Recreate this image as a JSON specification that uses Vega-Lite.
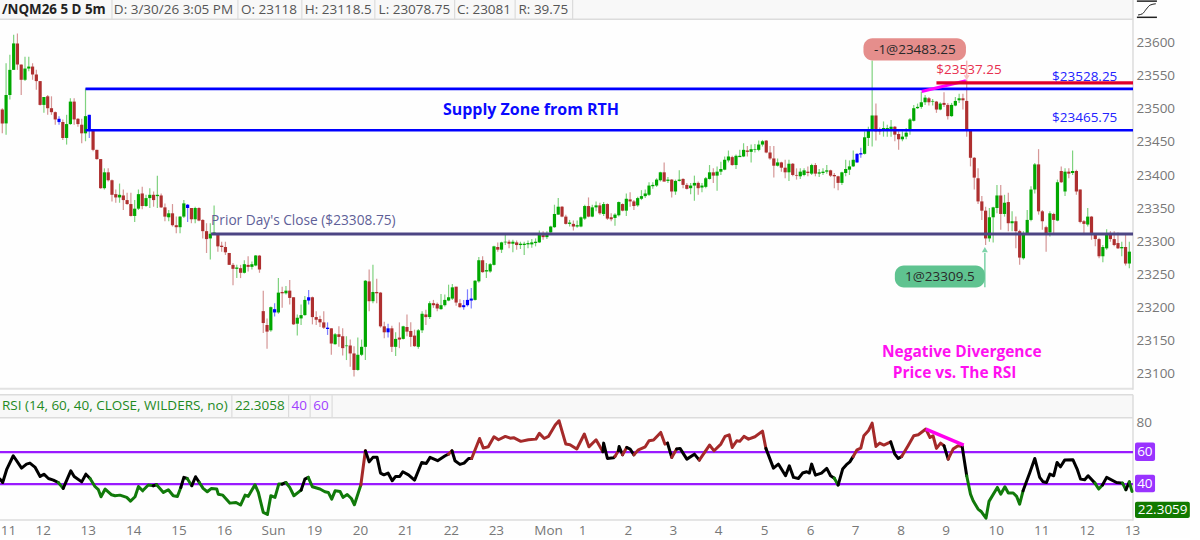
{
"$schema":"https://vega.github.io/schema/vega-lite/v6.json",
"padding":{"left":-2,"top":-1.2,"right":0,"bottom":0},
"background":"#fefefe",
"spacing":0,
"resolve":{"scale":{"color":"independent"}},
"config":{"view":{"stroke":null},"font":"Open Sans","concat":{"spacing":0}},
"datasets":{
"candles":[
{"i":0,"o":23497,"h":23499,"l":23461,"c":23476,"s":"d"},{"i":1,"o":23476,"h":23567,"l":23459,"c":23519,"s":"u"},{"i":2,"o":23519,"h":23580,"l":23512,"c":23557,"s":"u"},{"i":3,"o":23557,"h":23610,"l":23557,"c":23597,"s":"u"},{"i":4,"o":23597,"h":23612,"l":23557,"c":23565,"s":"d"},{"i":5,"o":23565,"h":23565,"l":23519,"c":23542,"s":"d"},{"i":6,"o":23542,"h":23577,"l":23540,"c":23559,"s":"u"},{"i":7,"o":23559,"h":23577,"l":23555,"c":23562,"s":"u"},{"i":8,"o":23562,"h":23567,"l":23542,"c":23550,"s":"d"},{"i":9,"o":23550,"h":23557,"l":23527,"c":23540,"s":"d"},
{"i":10,"o":23540,"h":23540,"l":23503,"c":23504,"s":"d"},{"i":11,"o":23504,"h":23516,"l":23492,"c":23516,"s":"u"},{"i":12,"o":23517,"h":23519,"l":23489,"c":23499,"s":"d"},{"i":13,"o":23499,"h":23517,"l":23489,"c":23493,"s":"d"},{"i":14,"o":23493,"h":23494,"l":23474,"c":23482,"s":"d"},{"i":15,"o":23483,"h":23487,"l":23474,"c":23478,"s":"n"},{"i":16,"o":23478,"h":23482,"l":23451,"c":23454,"s":"d"},{"i":17,"o":23454,"h":23489,"l":23444,"c":23475,"s":"u"},{"i":18,"o":23475,"h":23514,"l":23474,"c":23509,"s":"u"},{"i":19,"o":23509,"h":23514,"l":23474,"c":23482,"s":"d"},
{"i":20,"o":23483,"h":23484,"l":23471,"c":23475,"s":"d"},{"i":21,"o":23474,"h":23483,"l":23446,"c":23461,"s":"d"},{"i":22,"o":23461,"h":23529,"l":23449,"c":23487,"s":"u"},{"i":23,"o":23466,"h":23489,"l":23454,"c":23489,"s":"n"},{"i":24,"o":23465,"h":23466,"l":23434,"c":23436,"s":"d"},{"i":25,"o":23436,"h":23436,"l":23421,"c":23422,"s":"d"},{"i":26,"o":23422,"h":23422,"l":23377,"c":23378,"s":"d"},{"i":27,"o":23378,"h":23408,"l":23376,"c":23402,"s":"u"},{"i":28,"o":23402,"h":23408,"l":23388,"c":23390,"s":"d"},{"i":29,"o":23390,"h":23391,"l":23358,"c":23368,"s":"d"},
{"i":30,"o":23369,"h":23376,"l":23356,"c":23364,"s":"d"},{"i":31,"o":23364,"h":23385,"l":23356,"c":23368,"s":"u"},{"i":32,"o":23367,"h":23376,"l":23345,"c":23360,"s":"d"},{"i":33,"o":23360,"h":23371,"l":23353,"c":23354,"s":"d"},{"i":34,"o":23354,"h":23371,"l":23335,"c":23336,"s":"d"},{"i":35,"o":23336,"h":23360,"l":23327,"c":23347,"s":"u"},{"i":36,"o":23347,"h":23376,"l":23345,"c":23369,"s":"u"},{"i":37,"o":23370,"h":23380,"l":23346,"c":23351,"s":"d"},{"i":38,"o":23351,"h":23368,"l":23350,"c":23363,"s":"u"},{"i":39,"o":23363,"h":23378,"l":23348,"c":23368,"s":"u"},
{"i":40,"o":23368,"h":23373,"l":23350,"c":23360,"s":"d"},{"i":41,"o":23366,"h":23397,"l":23348,"c":23368,"s":"u"},{"i":42,"o":23367,"h":23370,"l":23348,"c":23349,"s":"d"},{"i":43,"o":23349,"h":23355,"l":23328,"c":23335,"s":"d"},{"i":44,"o":23334,"h":23345,"l":23328,"c":23340,"s":"u"},{"i":45,"o":23340,"h":23354,"l":23320,"c":23322,"s":"d"},{"i":46,"o":23322,"h":23335,"l":23310,"c":23319,"s":"d"},{"i":47,"o":23319,"h":23336,"l":23310,"c":23335,"s":"u"},{"i":48,"o":23335,"h":23360,"l":23333,"c":23355,"s":"u"},{"i":49,"o":23353,"h":23354,"l":23327,"c":23348,"s":"n"},
{"i":50,"o":23348,"h":23348,"l":23325,"c":23331,"s":"d"},{"i":51,"o":23331,"h":23350,"l":23325,"c":23348,"s":"u"},{"i":52,"o":23348,"h":23349,"l":23328,"c":23329,"s":"d"},{"i":53,"o":23330,"h":23331,"l":23302,"c":23313,"s":"d"},{"i":54,"o":23313,"h":23325,"l":23280,"c":23301,"s":"d"},{"i":55,"o":23302,"h":23325,"l":23270,"c":23309,"s":"u"},{"i":56,"o":23309,"h":23352,"l":23308,"c":23311,"s":"u"},{"i":57,"o":23309,"h":23309,"l":23282,"c":23290,"s":"d"},{"i":58,"o":23291,"h":23297,"l":23282,"c":23289,"s":"d"},{"i":59,"o":23289,"h":23297,"l":23277,"c":23281,"s":"d"},
{"i":60,"o":23280,"h":23280,"l":23262,"c":23262,"s":"d"},{"i":61,"o":23262,"h":23265,"l":23231,"c":23256,"s":"d"},{"i":62,"o":23256,"h":23262,"l":23242,"c":23258,"s":"u"},{"i":63,"o":23257,"h":23262,"l":23242,"c":23250,"s":"d"},{"i":64,"o":23250,"h":23269,"l":23249,"c":23263,"s":"u"},{"i":65,"o":23262,"h":23275,"l":23252,"c":23259,"s":"d"},{"i":66,"o":23259,"h":23267,"l":23255,"c":23263,"s":"u"},{"i":67,"o":23261,"h":23277,"l":23260,"c":23276,"s":"u"},{"i":68,"o":23276,"h":23277,"l":23250,"c":23255,"s":"d"},{"i":69,"o":23192,"h":23223,"l":23159,"c":23174,"s":"d"},
{"i":70,"o":23171,"h":23181,"l":23135,"c":23161,"s":"d"},{"i":71,"o":23163,"h":23199,"l":23161,"c":23198,"s":"u"},{"i":72,"o":23195,"h":23204,"l":23184,"c":23190,"s":"n"},{"i":73,"o":23190,"h":23242,"l":23188,"c":23220,"s":"u"},{"i":74,"o":23221,"h":23229,"l":23197,"c":23219,"s":"d"},{"i":75,"o":23219,"h":23230,"l":23217,"c":23223,"s":"u"},{"i":76,"o":23223,"h":23239,"l":23202,"c":23212,"s":"d"},{"i":77,"o":23213,"h":23213,"l":23171,"c":23172,"s":"d"},{"i":78,"o":23173,"h":23187,"l":23155,"c":23182,"s":"u"},{"i":79,"o":23181,"h":23202,"l":23171,"c":23186,"s":"u"},
{"i":80,"o":23186,"h":23215,"l":23185,"c":23209,"s":"u"},{"i":81,"o":23213,"h":23224,"l":23202,"c":23208,"s":"n"},{"i":82,"o":23213,"h":23214,"l":23172,"c":23183,"s":"d"},{"i":83,"o":23183,"h":23192,"l":23171,"c":23179,"s":"d"},{"i":84,"o":23180,"h":23185,"l":23168,"c":23175,"s":"d"},{"i":85,"o":23175,"h":23192,"l":23165,"c":23167,"s":"d"},{"i":86,"o":23167,"h":23175,"l":23156,"c":23165,"s":"n"},{"i":87,"o":23166,"h":23166,"l":23126,"c":23143,"s":"d"},{"i":88,"o":23142,"h":23159,"l":23141,"c":23157,"s":"u"},{"i":89,"o":23157,"h":23169,"l":23138,"c":23153,"s":"d"},
{"i":90,"o":23154,"h":23166,"l":23125,"c":23136,"s":"d"},{"i":91,"o":23139,"h":23154,"l":23118,"c":23140,"s":"u"},{"i":92,"o":23140,"h":23149,"l":23108,"c":23128,"s":"d"},{"i":93,"o":23128,"h":23139,"l":23093,"c":23103,"s":"d"},{"i":94,"o":23103,"h":23152,"l":23102,"c":23126,"s":"u"},{"i":95,"o":23126,"h":23149,"l":23124,"c":23138,"s":"u"},{"i":96,"o":23138,"h":23239,"l":23118,"c":23238,"s":"u"},{"i":97,"o":23237,"h":23255,"l":23192,"c":23207,"s":"d"},{"i":98,"o":23207,"h":23262,"l":23204,"c":23221,"s":"u"},{"i":99,"o":23221,"h":23241,"l":23204,"c":23219,"s":"d"},
{"i":100,"o":23220,"h":23221,"l":23167,"c":23169,"s":"d"},{"i":101,"o":23169,"h":23176,"l":23151,"c":23160,"s":"d"},{"i":102,"o":23160,"h":23173,"l":23152,"c":23166,"s":"n"},{"i":103,"o":23166,"h":23170,"l":23130,"c":23138,"s":"d"},{"i":104,"o":23138,"h":23160,"l":23124,"c":23150,"s":"u"},{"i":105,"o":23152,"h":23175,"l":23136,"c":23149,"s":"d"},{"i":106,"o":23150,"h":23170,"l":23149,"c":23169,"s":"u"},{"i":107,"o":23168,"h":23187,"l":23154,"c":23161,"s":"d"},{"i":108,"o":23162,"h":23175,"l":23138,"c":23153,"s":"d"},{"i":109,"o":23155,"h":23164,"l":23138,"c":23139,"s":"d"},
{"i":110,"o":23138,"h":23165,"l":23135,"c":23163,"s":"u"},{"i":111,"o":23163,"h":23192,"l":23159,"c":23188,"s":"u"},{"i":112,"o":23187,"h":23194,"l":23171,"c":23183,"s":"d"},{"i":113,"o":23183,"h":23207,"l":23180,"c":23204,"s":"u"},{"i":114,"o":23204,"h":23209,"l":23197,"c":23201,"s":"d"},{"i":115,"o":23203,"h":23205,"l":23192,"c":23196,"s":"d"},{"i":116,"o":23195,"h":23218,"l":23194,"c":23201,"s":"u"},{"i":117,"o":23201,"h":23217,"l":23199,"c":23209,"s":"u"},{"i":118,"o":23208,"h":23232,"l":23207,"c":23213,"s":"u"},{"i":119,"o":23211,"h":23233,"l":23209,"c":23228,"s":"u"},
{"i":120,"o":23229,"h":23229,"l":23200,"c":23205,"s":"d"},{"i":121,"o":23204,"h":23210,"l":23197,"c":23198,"s":"d"},{"i":122,"o":23201,"h":23209,"l":23194,"c":23198,"s":"n"},{"i":123,"o":23201,"h":23225,"l":23199,"c":23209,"s":"n"},{"i":124,"o":23211,"h":23227,"l":23196,"c":23208,"s":"n"},{"i":125,"o":23209,"h":23239,"l":23208,"c":23238,"s":"u"},{"i":126,"o":23237,"h":23274,"l":23235,"c":23269,"s":"u"},{"i":127,"o":23269,"h":23275,"l":23250,"c":23251,"s":"d"},{"i":128,"o":23252,"h":23265,"l":23242,"c":23254,"s":"u"},{"i":129,"o":23252,"h":23265,"l":23250,"c":23263,"s":"u"},
{"i":130,"o":23262,"h":23291,"l":23261,"c":23290,"s":"u"},{"i":131,"o":23289,"h":23296,"l":23282,"c":23285,"s":"d"},{"i":132,"o":23285,"h":23297,"l":23280,"c":23296,"s":"u"},{"i":133,"o":23296,"h":23308,"l":23292,"c":23297,"s":"u"},{"i":134,"o":23297,"h":23300,"l":23287,"c":23294,"s":"d"},{"i":135,"o":23294,"h":23300,"l":23281,"c":23297,"s":"u"},{"i":136,"o":23296,"h":23299,"l":23285,"c":23292,"s":"d"},{"i":137,"o":23292,"h":23297,"l":23286,"c":23294,"s":"u"},{"i":138,"o":23292,"h":23297,"l":23277,"c":23294,"s":"u"},{"i":139,"o":23293,"h":23299,"l":23287,"c":23295,"s":"u"},
{"i":140,"o":23293,"h":23301,"l":23288,"c":23296,"s":"u"},{"i":141,"o":23295,"h":23302,"l":23290,"c":23297,"s":"u"},{"i":142,"o":23296,"h":23314,"l":23295,"c":23308,"s":"u"},{"i":143,"o":23307,"h":23313,"l":23300,"c":23304,"s":"d"},{"i":144,"o":23304,"h":23313,"l":23301,"c":23308,"s":"u"},{"i":145,"o":23311,"h":23321,"l":23310,"c":23320,"s":"u"},{"i":146,"o":23319,"h":23353,"l":23318,"c":23339,"s":"u"},{"i":147,"o":23338,"h":23363,"l":23338,"c":23350,"s":"u"},{"i":148,"o":23350,"h":23351,"l":23334,"c":23335,"s":"d"},{"i":149,"o":23335,"h":23338,"l":23323,"c":23324,"s":"d"},
{"i":150,"o":23324,"h":23330,"l":23320,"c":23326,"s":"u"},{"i":151,"o":23324,"h":23329,"l":23314,"c":23320,"s":"d"},{"i":152,"o":23320,"h":23329,"l":23318,"c":23322,"s":"u"},{"i":153,"o":23320,"h":23335,"l":23319,"c":23334,"s":"u"},{"i":154,"o":23332,"h":23353,"l":23330,"c":23351,"s":"u"},{"i":155,"o":23351,"h":23364,"l":23334,"c":23335,"s":"d"},{"i":156,"o":23335,"h":23353,"l":23334,"c":23349,"s":"u"},{"i":157,"o":23349,"h":23358,"l":23343,"c":23352,"s":"u"},{"i":158,"o":23352,"h":23356,"l":23338,"c":23340,"s":"d"},{"i":159,"o":23339,"h":23357,"l":23336,"c":23354,"s":"u"},
{"i":160,"o":23354,"h":23355,"l":23330,"c":23332,"s":"d"},{"i":161,"o":23334,"h":23340,"l":23328,"c":23331,"s":"d"},{"i":162,"o":23333,"h":23340,"l":23321,"c":23338,"s":"u"},{"i":163,"o":23337,"h":23358,"l":23335,"c":23357,"s":"u"},{"i":164,"o":23354,"h":23355,"l":23343,"c":23344,"s":"d"},{"i":165,"o":23344,"h":23370,"l":23336,"c":23362,"s":"u"},{"i":166,"o":23361,"h":23372,"l":23350,"c":23358,"s":"d"},{"i":167,"o":23358,"h":23360,"l":23345,"c":23351,"s":"d"},{"i":168,"o":23352,"h":23365,"l":23350,"c":23363,"s":"u"},{"i":169,"o":23362,"h":23375,"l":23360,"c":23366,"s":"u"},
{"i":170,"o":23366,"h":23376,"l":23363,"c":23370,"s":"u"},{"i":171,"o":23368,"h":23387,"l":23366,"c":23382,"s":"u"},{"i":172,"o":23381,"h":23387,"l":23377,"c":23383,"s":"u"},{"i":173,"o":23382,"h":23393,"l":23380,"c":23391,"s":"u"},{"i":174,"o":23390,"h":23403,"l":23388,"c":23402,"s":"u"},{"i":175,"o":23402,"h":23417,"l":23388,"c":23388,"s":"d"},{"i":176,"o":23389,"h":23395,"l":23386,"c":23391,"s":"u"},{"i":177,"o":23391,"h":23392,"l":23364,"c":23373,"s":"d"},{"i":178,"o":23373,"h":23391,"l":23368,"c":23389,"s":"u"},{"i":179,"o":23389,"h":23405,"l":23388,"c":23391,"s":"u"},
{"i":180,"o":23392,"h":23393,"l":23378,"c":23383,"s":"d"},{"i":181,"o":23383,"h":23386,"l":23376,"c":23377,"s":"d"},{"i":182,"o":23378,"h":23386,"l":23369,"c":23382,"s":"u"},{"i":183,"o":23382,"h":23397,"l":23359,"c":23386,"s":"u"},{"i":184,"o":23386,"h":23388,"l":23368,"c":23378,"s":"d"},{"i":185,"o":23379,"h":23386,"l":23372,"c":23382,"s":"u"},{"i":186,"o":23380,"h":23395,"l":23378,"c":23393,"s":"u"},{"i":187,"o":23392,"h":23413,"l":23391,"c":23402,"s":"u"},{"i":188,"o":23402,"h":23408,"l":23386,"c":23397,"s":"d"},{"i":189,"o":23397,"h":23411,"l":23374,"c":23403,"s":"u"},
{"i":190,"o":23403,"h":23418,"l":23398,"c":23407,"s":"u"},{"i":191,"o":23406,"h":23426,"l":23405,"c":23421,"s":"u"},{"i":192,"o":23420,"h":23435,"l":23417,"c":23426,"s":"u"},{"i":193,"o":23425,"h":23427,"l":23412,"c":23413,"s":"d"},{"i":194,"o":23413,"h":23429,"l":23407,"c":23427,"s":"u"},{"i":195,"o":23425,"h":23436,"l":23425,"c":23427,"s":"u"},{"i":196,"o":23426,"h":23446,"l":23425,"c":23436,"s":"u"},{"i":197,"o":23435,"h":23442,"l":23426,"c":23433,"s":"d"},{"i":198,"o":23433,"h":23444,"l":23417,"c":23437,"s":"u"},{"i":199,"o":23436,"h":23445,"l":23432,"c":23437,"s":"u"},
{"i":200,"o":23436,"h":23450,"l":23434,"c":23444,"s":"u"},{"i":201,"o":23444,"h":23451,"l":23441,"c":23449,"s":"u"},{"i":202,"o":23450,"h":23451,"l":23431,"c":23432,"s":"d"},{"i":203,"o":23432,"h":23442,"l":23421,"c":23423,"s":"d"},{"i":204,"o":23423,"h":23442,"l":23394,"c":23412,"s":"d"},{"i":205,"o":23412,"h":23423,"l":23411,"c":23417,"s":"u"},{"i":206,"o":23417,"h":23418,"l":23403,"c":23409,"s":"d"},{"i":207,"o":23409,"h":23421,"l":23393,"c":23402,"s":"d"},{"i":208,"o":23402,"h":23421,"l":23389,"c":23415,"s":"u"},{"i":209,"o":23415,"h":23416,"l":23396,"c":23398,"s":"d"},
{"i":210,"o":23398,"h":23408,"l":23391,"c":23397,"s":"d"},{"i":211,"o":23396,"h":23408,"l":23392,"c":23403,"s":"u"},{"i":212,"o":23398,"h":23408,"l":23396,"c":23405,"s":"u"},{"i":213,"o":23403,"h":23411,"l":23396,"c":23401,"s":"d"},{"i":214,"o":23400,"h":23415,"l":23398,"c":23413,"s":"u"},{"i":215,"o":23413,"h":23416,"l":23396,"c":23400,"s":"d"},{"i":216,"o":23400,"h":23407,"l":23395,"c":23402,"s":"u"},{"i":217,"o":23401,"h":23408,"l":23398,"c":23403,"s":"u"},{"i":218,"o":23403,"h":23413,"l":23400,"c":23405,"s":"u"},{"i":219,"o":23405,"h":23406,"l":23395,"c":23397,"s":"d"},
{"i":220,"o":23398,"h":23401,"l":23378,"c":23396,"s":"d"},{"i":221,"o":23396,"h":23397,"l":23375,"c":23386,"s":"d"},{"i":222,"o":23386,"h":23403,"l":23383,"c":23402,"s":"u"},{"i":223,"o":23401,"h":23421,"l":23396,"c":23407,"s":"u"},{"i":224,"o":23406,"h":23420,"l":23398,"c":23411,"s":"u"},{"i":225,"o":23411,"h":23435,"l":23410,"c":23421,"s":"u"},{"i":226,"o":23417,"h":23431,"l":23416,"c":23430,"s":"n"},{"i":227,"o":23429,"h":23439,"l":23424,"c":23431,"s":"n"},{"i":228,"o":23430,"h":23464,"l":23429,"c":23455,"s":"u"},{"i":229,"o":23454,"h":23471,"l":23442,"c":23465,"s":"u"},
{"i":230,"o":23466,"h":23571,"l":23441,"c":23488,"s":"u"},{"i":231,"o":23488,"h":23506,"l":23450,"c":23464,"s":"d"},{"i":232,"o":23466,"h":23470,"l":23459,"c":23464,"s":"d"},{"i":233,"o":23465,"h":23479,"l":23456,"c":23469,"s":"u"},{"i":234,"o":23466,"h":23474,"l":23456,"c":23469,"s":"u"},{"i":235,"o":23466,"h":23481,"l":23456,"c":23471,"s":"u"},{"i":236,"o":23471,"h":23472,"l":23449,"c":23459,"s":"d"},{"i":237,"o":23460,"h":23464,"l":23436,"c":23452,"s":"d"},{"i":238,"o":23452,"h":23464,"l":23449,"c":23456,"s":"u"},{"i":239,"o":23456,"h":23469,"l":23452,"c":23462,"s":"u"},
{"i":240,"o":23466,"h":23484,"l":23459,"c":23482,"s":"u"},{"i":241,"o":23480,"h":23504,"l":23479,"c":23499,"s":"u"},{"i":242,"o":23499,"h":23506,"l":23498,"c":23501,"s":"u"},{"i":243,"o":23501,"h":23524,"l":23498,"c":23508,"s":"u"},{"i":244,"o":23508,"h":23519,"l":23504,"c":23515,"s":"u"},{"i":245,"o":23514,"h":23516,"l":23503,"c":23508,"s":"d"},{"i":246,"o":23509,"h":23513,"l":23503,"c":23510,"s":"u"},{"i":247,"o":23509,"h":23510,"l":23492,"c":23497,"s":"d"},{"i":248,"o":23497,"h":23508,"l":23496,"c":23506,"s":"u"},{"i":249,"o":23507,"h":23523,"l":23501,"c":23504,"s":"d"},
{"i":250,"o":23504,"h":23507,"l":23482,"c":23487,"s":"d"},{"i":251,"o":23487,"h":23507,"l":23486,"c":23504,"s":"u"},{"i":252,"o":23503,"h":23516,"l":23502,"c":23510,"s":"u"},{"i":253,"o":23511,"h":23521,"l":23507,"c":23514,"s":"u"},{"i":254,"o":23514,"h":23521,"l":23497,"c":23511,"s":"d"},{"i":255,"o":23510,"h":23542,"l":23456,"c":23466,"s":"d"},{"i":256,"o":23465,"h":23467,"l":23411,"c":23424,"s":"d"},{"i":257,"o":23424,"h":23425,"l":23376,"c":23394,"s":"d"},{"i":258,"o":23393,"h":23408,"l":23354,"c":23358,"s":"d"},{"i":259,"o":23358,"h":23366,"l":23330,"c":23344,"s":"d"},
{"i":260,"o":23344,"h":23350,"l":23292,"c":23302,"s":"d"},{"i":261,"o":23302,"h":23348,"l":23297,"c":23334,"s":"u"},{"i":262,"o":23334,"h":23350,"l":23296,"c":23349,"s":"u"},{"i":263,"o":23348,"h":23383,"l":23340,"c":23367,"s":"u"},{"i":264,"o":23367,"h":23383,"l":23315,"c":23339,"s":"d"},{"i":265,"o":23339,"h":23368,"l":23335,"c":23356,"s":"u"},{"i":266,"o":23357,"h":23371,"l":23313,"c":23325,"s":"d"},{"i":267,"o":23325,"h":23343,"l":23313,"c":23328,"s":"u"},{"i":268,"o":23328,"h":23335,"l":23287,"c":23313,"s":"d"},{"i":269,"o":23313,"h":23315,"l":23262,"c":23273,"s":"d"},
{"i":270,"o":23272,"h":23313,"l":23270,"c":23310,"s":"u"},{"i":271,"o":23310,"h":23345,"l":23308,"c":23330,"s":"u"},{"i":272,"o":23330,"h":23381,"l":23328,"c":23376,"s":"u"},{"i":273,"o":23376,"h":23416,"l":23370,"c":23414,"s":"u"},{"i":274,"o":23414,"h":23437,"l":23338,"c":23343,"s":"d"},{"i":275,"o":23343,"h":23345,"l":23315,"c":23328,"s":"d"},{"i":276,"o":23319,"h":23321,"l":23282,"c":23310,"s":"d"},{"i":277,"o":23311,"h":23343,"l":23305,"c":23340,"s":"u"},{"i":278,"o":23339,"h":23341,"l":23310,"c":23330,"s":"d"},{"i":279,"o":23329,"h":23391,"l":23328,"c":23387,"s":"u"},
{"i":280,"o":23404,"h":23411,"l":23386,"c":23387,"s":"d"},{"i":281,"o":23373,"h":23408,"l":23366,"c":23403,"s":"u"},{"i":282,"o":23403,"h":23408,"l":23393,"c":23400,"s":"d"},{"i":283,"o":23401,"h":23435,"l":23398,"c":23404,"s":"u"},{"i":284,"o":23404,"h":23406,"l":23368,"c":23373,"s":"d"},{"i":285,"o":23376,"h":23376,"l":23325,"c":23327,"s":"d"},{"i":286,"o":23328,"h":23330,"l":23310,"c":23324,"s":"d"},{"i":287,"o":23323,"h":23348,"l":23320,"c":23335,"s":"u"},{"i":288,"o":23335,"h":23336,"l":23300,"c":23308,"s":"d"},{"i":289,"o":23308,"h":23310,"l":23290,"c":23301,"s":"d"},
{"i":290,"o":23301,"h":23303,"l":23272,"c":23275,"s":"d"},{"i":291,"o":23275,"h":23292,"l":23266,"c":23289,"s":"u"},{"i":292,"o":23287,"h":23316,"l":23285,"c":23308,"s":"u"},{"i":293,"o":23308,"h":23313,"l":23297,"c":23301,"s":"d"},{"i":294,"o":23301,"h":23313,"l":23290,"c":23292,"s":"d"},{"i":295,"o":23295,"h":23311,"l":23286,"c":23287,"s":"d"},{"i":296,"o":23287,"h":23297,"l":23275,"c":23289,"s":"u"},{"i":297,"o":23289,"h":23308,"l":23261,"c":23264,"s":"d"},{"i":298,"o":23264,"h":23297,"l":23257,"c":23282,"s":"u"}
],
"rsi":[
{"i":-0.6,"r":43.1,"seg":1,"zone":"n"},{"i":0.1,"r":41,"seg":1,"zone":"n"},{"i":1.2,"r":49.4,"seg":1,"zone":"n"},{"i":2.9,"r":57.7,"seg":1,"zone":"n"},{"i":5.1,"r":50,"seg":1,"zone":"n"},{"i":6.4,"r":52.5,"seg":1,"zone":"n"},{"i":7.3,"r":53.1,"seg":1,"zone":"n"},{"i":8.7,"r":50.4,"seg":1,"zone":"n"},{"i":10,"r":44.8,"seg":1,"zone":"n"},{"i":11,"r":46.2,"seg":1,"zone":"n"},{"i":12.2,"r":43.5,"seg":1,"zone":"n"},{"i":13.5,"r":42.5,"seg":1,"zone":"n"},{"i":14.8,"r":41,"seg":1,"zone":"n"},
{"i":14.8,"r":41,"seg":2,"zone":"l"},{"i":16.1,"r":37.3,"seg":2,"zone":"l"},
{"i":16.1,"r":37.3,"seg":3,"zone":"n"},{"i":18.1,"r":48.3,"seg":3,"zone":"n"},{"i":19,"r":44.8,"seg":3,"zone":"n"},{"i":21,"r":41.4,"seg":3,"zone":"n"},{"i":22.1,"r":46.2,"seg":3,"zone":"n"},{"i":23.2,"r":43.5,"seg":3,"zone":"n"},
{"i":23.2,"r":43.5,"seg":4,"zone":"l"},{"i":24.5,"r":38.5,"seg":4,"zone":"l"},{"i":25.4,"r":36.5,"seg":4,"zone":"l"},{"i":26.1,"r":32.1,"seg":4,"zone":"l"},{"i":27.2,"r":36.9,"seg":4,"zone":"l"},{"i":28.9,"r":33.3,"seg":4,"zone":"l"},{"i":29.8,"r":32.7,"seg":4,"zone":"l"},{"i":31.1,"r":33.1,"seg":4,"zone":"l"},{"i":32.9,"r":31.7,"seg":4,"zone":"l"},{"i":33.9,"r":29.4,"seg":4,"zone":"l"},{"i":35.1,"r":32.1,"seg":4,"zone":"l"},{"i":36,"r":38.5,"seg":4,"zone":"l"},{"i":37.1,"r":35.8,"seg":4,"zone":"l"},{"i":38.6,"r":39.4,"seg":4,"zone":"l"},{"i":39.9,"r":39,"seg":4,"zone":"l"},
{"i":39.9,"r":39,"seg":5,"zone":"n"},{"i":40.8,"r":39.6,"seg":5,"zone":"n"},
{"i":40.8,"r":39.6,"seg":6,"zone":"l"},{"i":42.6,"r":34.8,"seg":6,"zone":"l"},{"i":43.9,"r":36.5,"seg":6,"zone":"l"},{"i":45.2,"r":32.7,"seg":6,"zone":"l"},{"i":46.3,"r":32.3,"seg":6,"zone":"l"},{"i":47.2,"r":37.9,"seg":6,"zone":"l"},
{"i":47.2,"r":37.9,"seg":7,"zone":"n"},{"i":48,"r":44.2,"seg":7,"zone":"n"},{"i":48.9,"r":43.5,"seg":7,"zone":"n"},
{"i":48.9,"r":43.5,"seg":8,"zone":"l"},{"i":50.1,"r":39,"seg":8,"zone":"l"},
{"i":50.1,"r":39,"seg":9,"zone":"n"},{"i":51.1,"r":44.6,"seg":9,"zone":"n"},{"i":52.1,"r":41,"seg":9,"zone":"n"},
{"i":52.1,"r":41,"seg":10,"zone":"l"},{"i":53.1,"r":37.3,"seg":10,"zone":"l"},{"i":54.2,"r":35.2,"seg":10,"zone":"l"},{"i":55.3,"r":37.3,"seg":10,"zone":"l"},{"i":56.7,"r":36.9,"seg":10,"zone":"l"},{"i":57.1,"r":33.7,"seg":10,"zone":"l"},{"i":58.3,"r":33.1,"seg":10,"zone":"l"},{"i":60.2,"r":28.1,"seg":10,"zone":"l"},{"i":61.8,"r":28.5,"seg":10,"zone":"l"},{"i":63,"r":26.9,"seg":10,"zone":"l"},{"i":64.2,"r":33.1,"seg":10,"zone":"l"},{"i":65,"r":32.3,"seg":10,"zone":"l"},{"i":66.8,"r":39.6,"seg":10,"zone":"l"},{"i":67.7,"r":34.8,"seg":10,"zone":"l"},{"i":69,"r":22.3,"seg":10,"zone":"l"},{"i":70.1,"r":21,"seg":10,"zone":"l"},{"i":71,"r":32.7,"seg":10,"zone":"l"},{"i":72.1,"r":31.7,"seg":10,"zone":"l"},{"i":73.1,"r":40,"seg":10,"zone":"l"},{"i":74,"r":40,"seg":10,"zone":"l"},
{"i":74,"r":40,"seg":11,"zone":"n"},{"i":75,"r":41,"seg":11,"zone":"n"},
{"i":75,"r":41,"seg":12,"zone":"l"},{"i":76,"r":37.9,"seg":12,"zone":"l"},{"i":77.1,"r":32.7,"seg":12,"zone":"l"},{"i":79,"r":36.2,"seg":12,"zone":"l"},
{"i":79,"r":36.2,"seg":13,"zone":"n"},{"i":80,"r":43.1,"seg":13,"zone":"n"},{"i":80.9,"r":44.2,"seg":13,"zone":"n"},
{"i":80.9,"r":44.2,"seg":14,"zone":"l"},{"i":82,"r":38.3,"seg":14,"zone":"l"},{"i":84,"r":36.9,"seg":14,"zone":"l"},{"i":85.3,"r":35.2,"seg":14,"zone":"l"},{"i":86.2,"r":34.8,"seg":14,"zone":"l"},{"i":87.1,"r":30.6,"seg":14,"zone":"l"},{"i":88,"r":35.8,"seg":14,"zone":"l"},{"i":89.3,"r":35.4,"seg":14,"zone":"l"},{"i":90.1,"r":31.7,"seg":14,"zone":"l"},{"i":91.2,"r":33.5,"seg":14,"zone":"l"},{"i":92.3,"r":31,"seg":14,"zone":"l"},{"i":93.1,"r":27.1,"seg":14,"zone":"l"},{"i":94.8,"r":39.4,"seg":14,"zone":"l"},
{"i":94.8,"r":39.4,"seg":15,"zone":"h"},{"i":96,"r":60.8,"seg":15,"zone":"h"},
{"i":96,"r":60.8,"seg":16,"zone":"n"},{"i":97,"r":53.9,"seg":16,"zone":"n"},{"i":98,"r":56.7,"seg":16,"zone":"n"},{"i":99.1,"r":56.7,"seg":16,"zone":"n"},{"i":100,"r":46.9,"seg":16,"zone":"n"},{"i":100.9,"r":45.8,"seg":16,"zone":"n"},{"i":102,"r":46.9,"seg":16,"zone":"n"},{"i":103.1,"r":42.1,"seg":16,"zone":"n"},{"i":104,"r":44.8,"seg":16,"zone":"n"},{"i":105.1,"r":44.8,"seg":16,"zone":"n"},{"i":105.9,"r":47.7,"seg":16,"zone":"n"},{"i":107.4,"r":45.8,"seg":16,"zone":"n"},{"i":109,"r":42.5,"seg":16,"zone":"n"},{"i":110.9,"r":53.5,"seg":16,"zone":"n"},{"i":112.1,"r":52.9,"seg":16,"zone":"n"},{"i":113.1,"r":56.7,"seg":16,"zone":"n"},{"i":115.1,"r":54.6,"seg":16,"zone":"n"},{"i":117.1,"r":57.7,"seg":16,"zone":"n"},{"i":118,"r":58.7,"seg":16,"zone":"n"},
{"i":118,"r":58.7,"seg":17,"zone":"h"},{"i":118.9,"r":60.8,"seg":17,"zone":"h"},
{"i":118.9,"r":60.8,"seg":18,"zone":"n"},{"i":119.7,"r":54.6,"seg":18,"zone":"n"},{"i":121,"r":52.3,"seg":18,"zone":"n"},{"i":122.1,"r":53.1,"seg":18,"zone":"n"},{"i":123.3,"r":56,"seg":18,"zone":"n"},{"i":124.1,"r":56,"seg":18,"zone":"n"},
{"i":124.1,"r":56,"seg":19,"zone":"h"},{"i":126.2,"r":68.5,"seg":19,"zone":"h"},{"i":127.2,"r":62.5,"seg":19,"zone":"h"},{"i":128.5,"r":63.3,"seg":19,"zone":"h"},{"i":130,"r":69.6,"seg":19,"zone":"h"},{"i":131.2,"r":67.7,"seg":19,"zone":"h"},{"i":133,"r":69.8,"seg":19,"zone":"h"},{"i":134.3,"r":68.7,"seg":19,"zone":"h"},{"i":135.2,"r":69,"seg":19,"zone":"h"},{"i":137.1,"r":66.7,"seg":19,"zone":"h"},{"i":139.1,"r":67.7,"seg":19,"zone":"h"},{"i":141.1,"r":68.1,"seg":19,"zone":"h"},{"i":142,"r":71.7,"seg":19,"zone":"h"},{"i":143.3,"r":68.5,"seg":19,"zone":"h"},{"i":144.4,"r":69.8,"seg":19,"zone":"h"},{"i":146.2,"r":76.9,"seg":19,"zone":"h"},{"i":147.2,"r":79.6,"seg":19,"zone":"h"},{"i":149,"r":65,"seg":19,"zone":"h"},{"i":150.1,"r":64.6,"seg":19,"zone":"h"},{"i":151.9,"r":61.9,"seg":19,"zone":"h"},{"i":153.9,"r":71.3,"seg":19,"zone":"h"},{"i":155.1,"r":63.3,"seg":19,"zone":"h"},{"i":157,"r":67.7,"seg":19,"zone":"h"},{"i":158.8,"r":60.2,"seg":19,"zone":"h"},
{"i":158.8,"r":60.2,"seg":20,"zone":"n"},{"i":159,"r":65.6,"seg":20,"zone":"n"},{"i":160,"r":56,"seg":20,"zone":"n"},{"i":161.6,"r":56.4,"seg":20,"zone":"n"},{"i":162,"r":57.3,"seg":20,"zone":"n"},
{"i":162,"r":57.3,"seg":21,"zone":"h"},{"i":162.9,"r":60.8,"seg":21,"zone":"h"},
{"i":162.9,"r":60.8,"seg":22,"zone":"n"},{"i":163.1,"r":63.5,"seg":22,"zone":"n"},{"i":164,"r":58.3,"seg":22,"zone":"n"},
{"i":164,"r":58.3,"seg":23,"zone":"h"},{"i":165.1,"r":62.9,"seg":23,"zone":"h"},
{"i":165.1,"r":62.9,"seg":24,"zone":"n"},{"i":166,"r":61.9,"seg":24,"zone":"n"},{"i":167,"r":58.3,"seg":24,"zone":"n"},
{"i":167,"r":58.3,"seg":25,"zone":"h"},{"i":168.2,"r":61.4,"seg":25,"zone":"h"},{"i":170,"r":63.3,"seg":25,"zone":"h"},{"i":171,"r":67.1,"seg":25,"zone":"h"},{"i":172.2,"r":67.5,"seg":25,"zone":"h"},{"i":174.1,"r":72.3,"seg":25,"zone":"h"},{"i":175.2,"r":65,"seg":25,"zone":"h"},{"i":175.9,"r":65.6,"seg":25,"zone":"h"},
{"i":175.9,"r":65.6,"seg":26,"zone":"n"},{"i":177,"r":56.7,"seg":26,"zone":"n"},
{"i":177,"r":56.7,"seg":27,"zone":"h"},{"i":178.3,"r":61.9,"seg":27,"zone":"h"},
{"i":178.3,"r":61.9,"seg":28,"zone":"n"},{"i":179.2,"r":62.3,"seg":28,"zone":"n"},{"i":181,"r":55.6,"seg":28,"zone":"n"},{"i":183,"r":58.7,"seg":28,"zone":"n"},{"i":184.3,"r":55,"seg":28,"zone":"n"},
{"i":184.3,"r":55,"seg":29,"zone":"h"},{"i":187,"r":64.4,"seg":29,"zone":"h"},{"i":188.2,"r":60.8,"seg":29,"zone":"h"},{"i":190,"r":65,"seg":29,"zone":"h"},{"i":191.1,"r":69.8,"seg":29,"zone":"h"},{"i":192.2,"r":70.8,"seg":29,"zone":"h"},{"i":193,"r":62.9,"seg":29,"zone":"h"},{"i":194.2,"r":67.1,"seg":29,"zone":"h"},{"i":195,"r":66.7,"seg":29,"zone":"h"},{"i":196.1,"r":69.8,"seg":29,"zone":"h"},{"i":197.3,"r":68.1,"seg":29,"zone":"h"},{"i":199,"r":69.6,"seg":29,"zone":"h"},{"i":201,"r":73.1,"seg":29,"zone":"h"},{"i":201.9,"r":62.3,"seg":29,"zone":"h"},
{"i":201.9,"r":62.3,"seg":30,"zone":"n"},{"i":203.9,"r":50,"seg":30,"zone":"n"},{"i":205.2,"r":52.5,"seg":30,"zone":"n"},{"i":207.1,"r":45.2,"seg":30,"zone":"n"},{"i":208.1,"r":51.4,"seg":30,"zone":"n"},{"i":209.2,"r":44.2,"seg":30,"zone":"n"},{"i":210.5,"r":43.5,"seg":30,"zone":"n"},{"i":211.6,"r":46.9,"seg":30,"zone":"n"},{"i":212.7,"r":47.7,"seg":30,"zone":"n"},{"i":213.4,"r":46.9,"seg":30,"zone":"n"},{"i":214,"r":52.5,"seg":30,"zone":"n"},{"i":215,"r":45.6,"seg":30,"zone":"n"},{"i":216.6,"r":46.9,"seg":30,"zone":"n"},{"i":218,"r":49.8,"seg":30,"zone":"n"},{"i":219,"r":45.2,"seg":30,"zone":"n"},{"i":220,"r":43.7,"seg":30,"zone":"n"},
{"i":220,"r":43.7,"seg":31,"zone":"l"},{"i":221,"r":39.4,"seg":31,"zone":"l"},
{"i":221,"r":39.4,"seg":32,"zone":"n"},{"i":222.2,"r":49.4,"seg":32,"zone":"n"},{"i":223.2,"r":52.1,"seg":32,"zone":"n"},{"i":224.1,"r":53.9,"seg":32,"zone":"n"},{"i":225,"r":57.3,"seg":32,"zone":"n"},
{"i":225,"r":57.3,"seg":33,"zone":"h"},{"i":226,"r":61.4,"seg":33,"zone":"h"},{"i":227,"r":62.5,"seg":33,"zone":"h"},{"i":227.8,"r":70.2,"seg":33,"zone":"h"},{"i":229,"r":73.3,"seg":33,"zone":"h"},{"i":230,"r":78.1,"seg":33,"zone":"h"},{"i":231,"r":63.5,"seg":33,"zone":"h"},{"i":232,"r":65.6,"seg":33,"zone":"h"},{"i":233.1,"r":64.4,"seg":33,"zone":"h"},{"i":234.9,"r":66.4,"seg":33,"zone":"h"},
{"i":234.9,"r":66.4,"seg":34,"zone":"n"},{"i":236,"r":58.7,"seg":34,"zone":"n"},{"i":236.9,"r":56,"seg":34,"zone":"n"},{"i":237.8,"r":57.3,"seg":34,"zone":"n"},
{"i":237.8,"r":57.3,"seg":35,"zone":"h"},{"i":239.5,"r":64,"seg":35,"zone":"h"},{"i":241,"r":70.2,"seg":35,"zone":"h"},{"i":242.2,"r":70.8,"seg":35,"zone":"h"},{"i":244.2,"r":74.4,"seg":35,"zone":"h"},{"i":245.3,"r":69.1,"seg":35,"zone":"h"},{"i":246.1,"r":70.2,"seg":35,"zone":"h"},{"i":247,"r":62.3,"seg":35,"zone":"h"},{"i":248.1,"r":65.6,"seg":35,"zone":"h"},{"i":249,"r":64,"seg":35,"zone":"h"},
{"i":249,"r":64,"seg":36,"zone":"n"},{"i":250.1,"r":55.6,"seg":36,"zone":"n"},
{"i":250.1,"r":55.6,"seg":37,"zone":"h"},{"i":251.4,"r":61.9,"seg":37,"zone":"h"},{"i":252.7,"r":64,"seg":37,"zone":"h"},{"i":253.8,"r":63.5,"seg":37,"zone":"h"},
{"i":253.8,"r":63.5,"seg":38,"zone":"n"},{"i":255,"r":45.2,"seg":38,"zone":"n"},
{"i":255,"r":45.2,"seg":39,"zone":"l"},{"i":256,"r":33.7,"seg":39,"zone":"l"},{"i":256.7,"r":29.6,"seg":39,"zone":"l"},{"i":258,"r":24.4,"seg":39,"zone":"l"},{"i":258.9,"r":22.7,"seg":39,"zone":"l"},{"i":260.1,"r":18.7,"seg":39,"zone":"l"},{"i":260.9,"r":29.2,"seg":39,"zone":"l"},{"i":263.1,"r":37.9,"seg":39,"zone":"l"},{"i":264,"r":33.7,"seg":39,"zone":"l"},{"i":265.1,"r":38.3,"seg":39,"zone":"l"},{"i":266,"r":34.4,"seg":39,"zone":"l"},{"i":267.3,"r":34.4,"seg":39,"zone":"l"},{"i":268.2,"r":32.3,"seg":39,"zone":"l"},{"i":269,"r":27.5,"seg":39,"zone":"l"},{"i":269.9,"r":35.8,"seg":39,"zone":"l"},
{"i":269.9,"r":35.8,"seg":40,"zone":"n"},{"i":271.7,"r":47.3,"seg":40,"zone":"n"},{"i":273,"r":56,"seg":40,"zone":"n"},{"i":274.3,"r":44.2,"seg":40,"zone":"n"},{"i":275.2,"r":41.4,"seg":40,"zone":"n"},{"i":276.1,"r":41,"seg":40,"zone":"n"},{"i":277,"r":46.2,"seg":40,"zone":"n"},{"i":278,"r":45.2,"seg":40,"zone":"n"},{"i":278.9,"r":53.5,"seg":40,"zone":"n"},{"i":279.8,"r":50.8,"seg":40,"zone":"n"},{"i":280.9,"r":55,"seg":40,"zone":"n"},{"i":283.1,"r":55.2,"seg":40,"zone":"n"},{"i":284.2,"r":49.4,"seg":40,"zone":"n"},{"i":285.1,"r":43.1,"seg":40,"zone":"n"},{"i":286.2,"r":42.7,"seg":40,"zone":"n"},{"i":287.1,"r":45.2,"seg":40,"zone":"n"},{"i":288.9,"r":40.6,"seg":40,"zone":"n"},
{"i":288.9,"r":40.6,"seg":41,"zone":"l"},{"i":289.9,"r":36.9,"seg":41,"zone":"l"},{"i":290.9,"r":39.4,"seg":41,"zone":"l"},
{"i":290.9,"r":39.4,"seg":42,"zone":"n"},{"i":292,"r":44.2,"seg":42,"zone":"n"},{"i":294.6,"r":41,"seg":42,"zone":"n"},{"i":296.2,"r":40.6,"seg":42,"zone":"n"},
{"i":296.2,"r":40.6,"seg":43,"zone":"l"},{"i":297.1,"r":36.5,"seg":43,"zone":"l"},
{"i":297.1,"r":36.5,"seg":44,"zone":"n"},{"i":298,"r":41.4,"seg":44,"zone":"n"},
{"i":298,"r":41.4,"seg":45,"zone":"l"},{"i":298.7,"r":35.4,"seg":45,"zone":"l"}
]
},
"vconcat":[
{
"width":1133,"height":390,
"encoding":{
"x":{"field":"i","type":"quantitative","scale":{"domain":[-0.608,298.97],"nice":false,"zero":false,"padding":0},"axis":null},
"y":{"field":"p","type":"quantitative","scale":{"domain":[23073,23663],"nice":false,"zero":false},"axis":{"orient":"right","title":null,"values":[23100,23150,23200,23250,23300,23350,23400,23450,23500,23550,23600],"format":"d","domain":false,"ticks":false,"grid":false,"labelColor":"#777777","labelFontSize":13.5,"labelFont":"Open Sans","labelPadding":3,"labelOffset":1.4}}
},
"layer":[
{"data":{"values":[{"i":-0.608,"i2":298.97,"p":23663,"p2":23633.5}]},"mark":{"type":"rect","color":"#f8f8f8"},"encoding":{"x2":{"field":"i2"},"y2":{"field":"p2"}}},
{"data":{"values":[{"i":-0.608,"i2":298.97,"p":23633.5}]},"mark":{"type":"rule","color":"#dcdcdc","strokeWidth":1.5},"encoding":{"x2":{"field":"i2"}}},
{"data":{"values":[{"i":-0.608,"i2":298.97,"p":23074.5}]},"mark":{"type":"rule","color":"#e2e2e2","strokeWidth":2},"encoding":{"x2":{"field":"i2"}}},
{"data":{"values":[{"i":298.97,"p":23663,"p2":23073}]},"mark":{"type":"rule","color":"#dcdcdc","strokeWidth":1.5},"encoding":{"y2":{"field":"p2"}}},
{"data":{"values":[{"i":29,"p":23663,"p2":23634},{"i":62.3,"p":23663,"p2":23634},{"i":79.2,"p":23663,"p2":23634},{"i":98.5,"p":23663,"p2":23634},{"i":119.6,"p":23663,"p2":23634},{"i":135.6,"p":23663,"p2":23634},{"i":150.8,"p":23663,"p2":23634}]},"mark":{"type":"rule","color":"#dcdcdc","strokeWidth":1.2},"encoding":{"y2":{"field":"p2"}}},
{"data":{"name":"candles"},"mark":{"type":"rule","strokeWidth":1.2,"opacity":0.5},"encoding":{
"y":{"field":"l","type":"quantitative","scale":{"domain":[23073,23663],"nice":false,"zero":false},"axis":{"orient":"right","title":null,"values":[23100,23150,23200,23250,23300,23350,23400,23450,23500,23550,23600],"format":"d","domain":false,"ticks":false,"grid":false,"labelColor":"#777777","labelFontSize":13.5,"labelFont":"Open Sans","labelPadding":3,"labelOffset":1.4}},"y2":{"field":"h"},
"color":{"field":"s","type":"nominal","legend":null,"scale":{"domain":["u","d","n"],"range":["#00a800","#ae2f2f","#0000ff"]}}}},
{"data":{"name":"candles"},"mark":{"type":"bar","size":3.2},"encoding":{
"y":{"field":"o","type":"quantitative","scale":{"domain":[23073,23663],"nice":false,"zero":false},"axis":{"orient":"right","title":null,"values":[23100,23150,23200,23250,23300,23350,23400,23450,23500,23550,23600],"format":"d","domain":false,"ticks":false,"grid":false,"labelColor":"#777777","labelFontSize":13.5,"labelFont":"Open Sans","labelPadding":3,"labelOffset":1.4}},"y2":{"field":"c"},
"color":{"field":"s","type":"nominal","legend":null,"scale":{"domain":["u","d","n"],"range":["#00a800","#ae2f2f","#0000ff"]}}}},
{"data":{"values":[{"i":55.2,"i2":298.97,"p":23308.75}]},"mark":{"type":"rule","color":"#4c4584","strokeWidth":3},"encoding":{"x2":{"field":"i2"}}},
{"data":{"values":[{"i":22,"i2":298.97,"p":23528.25},{"i":22,"i2":298.97,"p":23465.75}]},"mark":{"type":"rule","color":"#0000ff","strokeWidth":2.6},"encoding":{"x2":{"field":"i2"}}},
{"data":{"values":[{"i":243.1,"p":23524.3},{"i":254.8,"p":23540.5}]},"mark":{"type":"line","color":"#ff00ff","strokeWidth":3}},
{"data":{"values":[{"i":247,"i2":298.97,"p":23537.25}]},"mark":{"type":"rule","color":"#e0002d","strokeWidth":3.2},"encoding":{"x2":{"field":"i2"}}},
{"data":{"values":[{"i":255,"p":23571,"p2":23548}]},"mark":{"type":"rule","color":"#f5b5b5","strokeWidth":1.5},"encoding":{"y2":{"field":"p2"}}},
{"data":{"values":[{"i":255,"p":23545}]},"mark":{"type":"point","shape":"triangle-down","filled":true,"size":35,"opacity":1,"color":"#f7c0c0"}},
{"data":{"values":[{"i":259.8,"p":23228,"p2":23280}]},"mark":{"type":"rule","color":"#7dd3a8","strokeWidth":1.5},"encoding":{"y2":{"field":"p2"}}},
{"data":{"values":[{"i":259.8,"p":23285}]},"mark":{"type":"point","shape":"triangle-up","filled":true,"size":35,"opacity":1,"color":"#7dd3a8"}},
{"data":{"values":[{"i":227.7,"i2":254.8,"p":23605,"p2":23571.2}]},"mark":{"type":"rect","color":"#e58e8c","cornerRadius":9},"encoding":{"x2":{"field":"i2"},"y2":{"field":"p2"}}},
{"data":{"values":[{"i":236,"i2":259.8,"p":23261,"p2":23227.8}]},"mark":{"type":"rect","color":"#5fc390","cornerRadius":9},"encoding":{"x2":{"field":"i2"},"y2":{"field":"p2"}}},
{"data":{"values":[{"i":241.3,"p":23587.4,"label":"-1@23483.25"},{"i":247.9,"p":23244,"label":"1@23309.5"}]},"mark":{"type":"text","font":"Open Sans","fontSize":13.5,"color":"#2a2a2a"},"encoding":{"text":{"field":"label"}}},
{"data":{"values":[{"i":255.6,"p":23557,"label":"$23537.25"}]},"mark":{"type":"text","font":"Open Sans","fontSize":13.5,"color":"#e8304f"},"encoding":{"text":{"field":"label"}}},
{"data":{"values":[{"i":286.2,"p":23546.5,"label":"$23528.25"},{"i":286.2,"p":23484.5,"label":"$23465.75"}]},"mark":{"type":"text","font":"Open Sans","fontSize":13.5,"color":"#2222ff"},"encoding":{"text":{"field":"label"}}},
{"data":{"values":[{"i":139.8,"p":23496.6,"label":"Supply Zone from RTH"}]},"mark":{"type":"text","font":"Open Sans","fontSize":16,"fontWeight":"bold","color":"#0a0aff"},"encoding":{"text":{"field":"label"}}},
{"data":{"values":[{"i":79.6,"p":23328.6,"label":"Prior Day's Close ($23308.75)"}]},"mark":{"type":"text","font":"Open Sans","fontSize":13.7,"color":"#5f5f98"},"encoding":{"text":{"field":"label"}}},
{"data":{"values":[{"i":253.7,"p":23130.5,"label":"Negative Divergence"},{"i":251.8,"p":23098.7,"label":"Price vs. The RSI"}]},"mark":{"type":"text","font":"Open Sans","fontSize":15.5,"fontWeight":"bold","color":"#ff10f0"},"encoding":{"text":{"field":"label"}}},
{"data":{"values":[{"i":-0.08,"p":23648,"label":"/NQM26 5 D 5m"}]},"mark":{"type":"text","font":"Open Sans","fontSize":13.4,"fontWeight":"bold","align":"left","color":"#222222"},"encoding":{"text":{"field":"label"}}},
{"data":{"values":[{"i":29.5,"p":23648,"label":"D: 3/30/26 3:05 PM"},{"i":63.1,"p":23648,"label":"O: 23118"},{"i":80,"p":23648,"label":"H: 23118.5"},{"i":99.5,"p":23648,"label":"L: 23078.75"},{"i":120.2,"p":23648,"label":"C: 23081"},{"i":136.5,"p":23648,"label":"R: 39.75"}]},"mark":{"type":"text","font":"Open Sans","fontSize":13.5,"align":"left","color":"#555555"},"encoding":{"text":{"field":"label"}}},
{"data":{"values":[{"i":300,"i2":305.3,"p":23661},{"i":300,"i2":305.3,"p":23636.5}]},"mark":{"type":"rule","color":"#222222","strokeWidth":1.5},"encoding":{"x2":{"field":"i2"}}},
{"data":{"values":[{"i":300.3,"p":23640},{"i":301.5,"p":23642},{"i":302.5,"p":23649},{"i":303.5,"p":23655},{"i":305,"p":23657}]},"mark":{"type":"line","color":"#222222","strokeWidth":1,"interpolate":"monotone"}}
]
},
{
"width":1133,"height":130,
"encoding":{
"x":{"field":"i","type":"quantitative","scale":{"domain":[-0.608,298.97],"nice":false,"zero":false,"padding":0},"axis":{"orient":"bottom","title":null,"domain":false,"ticks":false,"grid":false,"labelColor":"#777777","labelFontSize":13.5,"labelFont":"Open Sans","labelPadding":3,"labelOverlap":false,"labelBound":false,"labelFlush":false,"values":[1.5,10.66,22.6,34.6,46.6,58.6,71.6,82.4,94.6,106.5,118.6,130.5,144.3,153.3,165.4,177.3,189.3,201.4,213.6,225.5,237.5,249.4,262.7,274.7,286.7,298.7],"labelExpr":"['11','12','13','14','15','16','Sun','19','20','21','22','23','Mon','1','2','3','4','5','6','7','8','9','10','11','12','13'][indexof([1.5,10.66,22.6,34.6,46.6,58.6,71.6,82.4,94.6,106.5,118.6,130.5,144.3,153.3,165.4,177.3,189.3,201.4,213.6,225.5,237.5,249.4,262.7,274.7,286.7,298.7],datum.value)]"}},
"y":{"field":"r","type":"quantitative","scale":{"domain":[17.06,98.3],"nice":false,"zero":false},"axis":{"orient":"right","title":null,"values":[80],"domain":false,"ticks":false,"grid":false,"labelColor":"#777777","labelFontSize":13.5,"labelFont":"Open Sans","labelPadding":3,"labelOffset":2}}
},
"layer":[
{"data":{"values":[{"i":-0.608,"i2":298.97,"r":95.8,"r2":81.4}]},"mark":{"type":"rect","color":"#f8f8f8"},"encoding":{"x2":{"field":"i2"},"y2":{"field":"r2"}}},
{"data":{"values":[{"i":-0.608,"i2":298.97,"r":95.8},{"i":-0.608,"i2":298.97,"r":81.4},{"i":-0.608,"i2":298.97,"r":17.6}]},"mark":{"type":"rule","color":"#dcdcdc","strokeWidth":1.5},"encoding":{"x2":{"field":"i2"}}},
{"data":{"values":[{"i":298.97,"r":95.8,"r2":17.06}]},"mark":{"type":"rule","color":"#dcdcdc","strokeWidth":1.5},"encoding":{"y2":{"field":"r2"}}},
{"data":{"values":[{"i":60.7,"r":95.8,"r2":81.4},{"i":75.7,"r":95.8,"r2":81.4},{"i":81.4,"r":95.8,"r2":81.4},{"i":87.2,"r":95.8,"r2":81.4}]},"mark":{"type":"rule","color":"#dcdcdc","strokeWidth":1.2},"encoding":{"y2":{"field":"r2"}}},
{"data":{"values":[{"i":-0.608,"i2":298.97,"r":60},{"i":-0.608,"i2":298.97,"r":40}]},"mark":{"type":"rule","color":"#9a1aff","strokeWidth":2.2},"encoding":{"x2":{"field":"i2"}}},
{"data":{"name":"rsi"},"mark":{"type":"line","strokeWidth":3,"strokeJoin":"round","strokeCap":"round"},"encoding":{"detail":{"field":"seg","type":"nominal"},"color":{"field":"zone","type":"nominal","legend":null,"scale":{"domain":["n","l","h"],"range":["#000000","#117a0a","#a52a2a"]}}}},
{"data":{"values":[{"i":244.2,"r":74.4},{"i":254.2,"r":64.4}]},"mark":{"type":"line","color":"#ff00ee","strokeWidth":3.5}},
{"data":{"values":[{"i":299.5,"i2":304.8,"r":66,"r2":54.5},{"i":299.5,"i2":304.8,"r":45.8,"r2":34.9}]},"mark":{"type":"rect","color":"#9933ff","cornerRadius":2},"encoding":{"x2":{"field":"i2"},"y2":{"field":"r2"}}},
{"data":{"values":[{"i":299.5,"i2":314,"r":29,"r2":18.8}]},"mark":{"type":"rect","color":"#117a00","cornerRadius":2},"encoding":{"x2":{"field":"i2"},"y2":{"field":"r2"}}},
{"data":{"values":[{"i":302.1,"r":60,"label":"60"},{"i":302.1,"r":40,"label":"40"},{"i":306.8,"r":23.9,"label":"22.3059"}]},"mark":{"type":"text","font":"Open Sans","fontSize":13.5,"color":"#ffffff"},"encoding":{"text":{"field":"label"}}},
{"data":{"values":[{"i":-0.08,"r":88.6,"label":"RSI (14, 60, 40, CLOSE, WILDERS, no)"},{"i":61.5,"r":88.6,"label":"22.3058"}]},"mark":{"type":"text","font":"Open Sans","fontSize":13.5,"align":"left","color":"#1f8a1f"},"encoding":{"text":{"field":"label"}}},
{"data":{"values":[{"i":76.5,"r":88.6,"label":"40"},{"i":82.2,"r":88.6,"label":"60"}]},"mark":{"type":"text","font":"Open Sans","fontSize":13.5,"align":"left","color":"#a040ff"},"encoding":{"text":{"field":"label"}}}
]
}
]
}
